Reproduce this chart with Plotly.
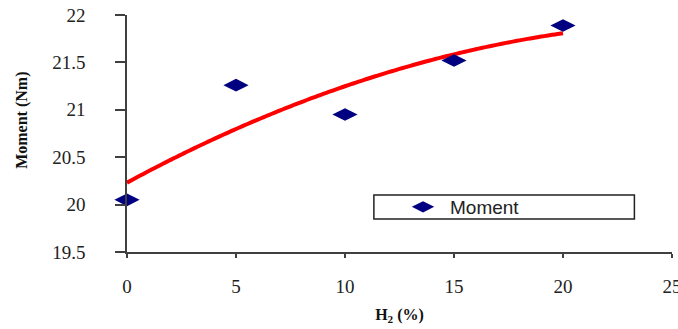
import numpy as np
import plotly.graph_objects as go

# Data
h2_percent = [0, 5, 10, 15, 20]
moment_nm = [20.05, 21.26, 20.95, 21.52, 21.89]

x_tick_vals = [0, 5, 10, 15, 20, 25]
x_tick_text = ["0", "5", "10", "15", "20", "25"]
y_tick_vals = [19.5, 20, 20.5, 21, 21.5, 22]
y_tick_text = ["19.5", "20", "20.5", "21", "21.5", "22"]

series_name = "Moment"
x_title = "<b>H<sub>2</sub> (%)</b>"
y_title = "<b>Moment (Nm)</b>"

# Excel-style 2nd-order polynomial trendline fitted to the data
coef = np.polyfit(h2_percent, moment_nm, 2)
trend_x = np.linspace(min(h2_percent), max(h2_percent), 81)
trend_y = np.polyval(coef, trend_x)

fig = go.Figure()
fig.add_trace(go.Scatter(
    x=trend_x, y=trend_y, mode="lines",
    line=dict(color="#FF0000", width=4, shape="spline"),
    showlegend=False, hoverinfo="skip", cliponaxis=False,
))
fig.add_trace(go.Scatter(
    x=h2_percent, y=moment_nm, mode="markers", name=series_name,
    marker=dict(symbol="diamond-wide", size=18, color="#000080"),
    cliponaxis=False,
))

serif = "Liberation Serif, Times New Roman, serif"
axis_color = "#404040"

fig.update_layout(
    width=678, height=329,
    margin=dict(l=127, r=6, t=15, b=77, autoexpand=False),
    paper_bgcolor="white", plot_bgcolor="white",
    showlegend=True,
    legend=dict(
        x=0.4936, xanchor="left", y=0.19, yanchor="middle",
        bgcolor="rgba(0,0,0,0)", borderwidth=0, itemwidth=44,
        font=dict(family="Liberation Sans, Arial, sans-serif", size=19, color="#222222"),
    ),
    shapes=[dict(
        type="rect", xref="paper", yref="paper",
        x0=0.453, x1=0.931, y0=0.139, y1=0.2405,
        line=dict(color="#222222", width=1.5), fillcolor="white", layer="below",
    )],
    annotations=[dict(
        text=y_title, textangle=-90, xref="paper", yref="paper",
        x=-0.193, y=0.557, xanchor="center", yanchor="middle", showarrow=False,
        font=dict(family=serif, size=16, color="#111111"),
    )],
)

fig.update_xaxes(
    range=[0, 25], tickvals=x_tick_vals, ticktext=x_tick_text,
    automargin=False,
    showgrid=False, zeroline=False,
    showline=True, linecolor=axis_color, linewidth=1.5,
    ticks="outside", ticklen=4, tickcolor=axis_color, tickwidth=1.5,
    ticklabelstandoff=12, ticklabeloverflow="allow",
    tickfont=dict(family=serif, size=19, color="#222222"),
    title=dict(text=x_title, font=dict(family=serif, size=16, color="#111111"), standoff=13),
)
fig.update_yaxes(
    range=[19.5, 22], tickvals=y_tick_vals, ticktext=y_tick_text,
    automargin=False,
    showgrid=False, zeroline=False,
    showline=True, linecolor=axis_color, linewidth=1.5,
    ticks="outside", ticklen=10, tickcolor=axis_color, tickwidth=1.5,
    ticklabelstandoff=26, ticklabeloverflow="allow",
    tickfont=dict(family=serif, size=19, color="#222222"),
)

# remove the browser's default 8px body margin so the figure fills the window
fig.write_html(
    "out.html",
    config={"displayModeBar": False},
    post_script="document.body.style.margin='0';",
)
